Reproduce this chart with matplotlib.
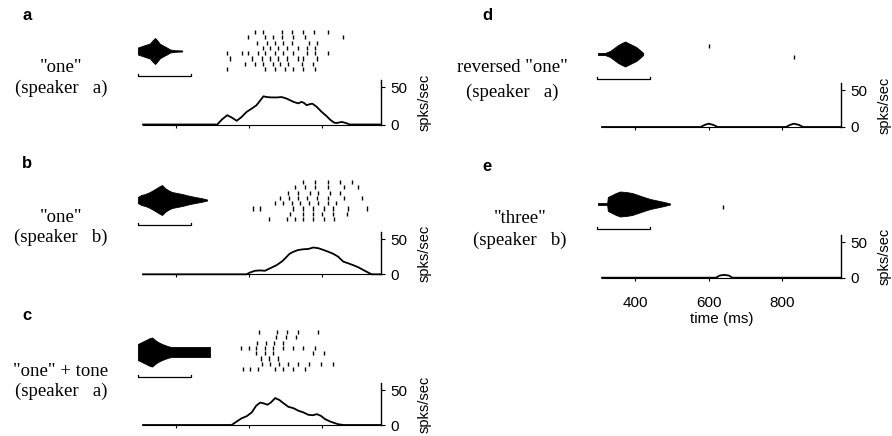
import matplotlib.pyplot as plt

W, H = 892, 436
T_RANGE = (310, 960)

# ---- data ----
# spike rasters: spike times in ms, one list per trial
raster_a = [
    [616, 638, 690, 718, 748, 778, 814],
    [597, 644, 666, 690, 721, 753, 855],
    [622, 649, 671, 693, 718, 762, 786],
    [638, 658, 679, 704, 734, 759, 781],
    [540, 581, 597, 625, 644, 671, 693, 721, 759, 781, 814],
    [548, 608, 636, 658, 679, 704, 732, 748, 786],
    [589, 616, 638, 666, 685, 707, 745, 773],
    [540, 644, 671, 699, 721, 748, 781],
]
raster_b = [
    [748, 781, 814, 847, 882],
    [726, 753, 781, 814, 858, 896],
    [707, 734, 767, 789, 822, 849],
    [685, 710, 734, 759, 786, 816, 858, 907],
    [671, 693, 718, 740, 762, 789, 814, 836],
    [611, 630, 721, 748, 775, 803, 830, 871, 923],
    [712, 748, 775, 800, 830, 868],
    [655, 704, 726, 748, 775, 803, 833],
]
raster_c = [
    [627, 677, 704, 732, 789],
    [674, 701, 729],
    [622, 647, 668, 693],
    [578, 600, 619, 644, 666, 693, 721, 748, 781],
    [619, 644, 666, 773, 805],
    [633, 655, 679],
    [636, 658, 682, 707, 734, 762, 795, 830],
    [584, 603, 625, 671, 693, 721, 753],
]
raster_d = [[], [], [600], [], [832], [], [], []]
raster_e = [[], [], [], [], [640], [], [], []]

# PSTH: time (ms) and rate (spikes/sec)
psth_a_t = [310, 513, 525, 540, 552, 566, 579, 593, 607, 620, 631, 639, 648, 661, 675, 689,
            702, 721, 734, 743, 750, 757, 766, 773, 784, 798, 812, 821, 832, 839, 853, 864, 875, 960]
psth_a_r = [0, 0, 6.5, 12.5, 9.5, 5, 10, 17, 21.5, 26, 33, 38, 37, 36.5, 36.5, 37,
            35, 30.5, 28.5, 30.5, 29, 26, 27.5, 28, 24, 17, 11, 6.5, 2.5, 2, 3.5, 2, 0, 0]
psth_b_t = [310, 593, 602, 616, 630, 643, 657, 675, 689, 698, 710, 721, 734, 748, 762,
            775, 789, 803, 816, 830, 843, 857, 871, 884, 898, 912, 925, 934, 960]
psth_b_r = [0, 0, 2.5, 5, 5.5, 5, 8.5, 13, 18, 22.5, 29, 32, 34.5, 35.5, 36,
            38, 37, 34.5, 32, 29, 25, 18, 15.5, 13, 10, 6, 2.5, 0, 0]
psth_c_t = [310, 552, 566, 579, 593, 607, 619, 630, 639, 650, 659, 671, 683, 694, 707,
            721, 734, 748, 762, 774, 785, 796, 807, 821, 832, 844, 858, 960]
psth_c_r = [0, 0, 5, 9.5, 12.5, 18, 27.5, 32, 31, 29, 32, 38.5, 35.5, 31, 26,
            24, 20.5, 18, 14.5, 14, 15.5, 13, 8.5, 5, 3, 1, 0, 0]
psth_d_t = [310, 578, 590, 600, 612, 625, 810, 822, 832, 845, 857, 960]
psth_d_r = [0, 0, 3, 4.5, 3, 0, 0, 3, 4.5, 3, 0, 0]
psth_e_t = [310, 620, 630, 642, 655, 665, 960]
psth_e_r = [0, 0, 3, 4, 3, 0, 0]

# stimulus waveform envelopes: time (ms) and half amplitude
wave_a_t = [296, 316, 329, 337, 343, 348, 356, 367, 376, 384, 397, 417]
wave_a_amp = [3.5, 6, 7.5, 11, 13, 11, 7.3, 5, 3.3, 1.5, 0.8, 0.5]
wave_b_t = [296, 305, 316, 329, 343, 354, 362, 370, 378, 389, 403, 417, 433, 452, 468, 485]
wave_b_amp = [3, 5, 6, 8, 11, 13.5, 15, 12, 10, 8, 7, 6, 4.5, 3, 2, 0.5]
wave_c_t = [296, 307, 318, 329, 335, 343, 351, 362, 373, 381, 389, 493]
wave_c_amp = [8, 10, 12, 14, 14.5, 12, 10, 8, 6.5, 5.5, 5, 5]
wave_d_t = [299, 318, 332, 343, 354, 364, 373, 381, 392, 403, 413, 422]
wave_d_amp = [1, 1, 3, 6, 9, 11, 12.5, 11, 9, 7, 4, 1]
wave_e_t = [299, 324, 326, 337, 348, 359, 375, 392, 408, 424, 441, 460, 479, 495]
wave_e_amp = [1, 1, 7, 9, 11, 12.5, 12, 11, 9, 7, 5, 3.5, 2, 0.5]

scale_bar = (297, 440)
time_ticks = [400, 600, 800]
rate_ticks = [0, 50]

SANS = "Liberation Sans"
SERIF = "Liberation Serif"

# layout in pixels
panels = [
    dict(letter="a", lx=27, ly=15, lines=('"one"', "(speaker   a)"), tx=61, ty=(68, 88),
         x0=143, x1=381, wc=51, row0=32, rs=5.3, ptop=80, pbot=124.5,
         wave=(wave_a_t, wave_a_amp), raster=raster_a, psth=(psth_a_t, psth_a_r)),
    dict(letter="b", lx=27, ly=164, lines=('"one"', "(speaker   b)"), tx=61, ty=(217, 237),
         x0=143, x1=381, wc=200, row0=182, rs=5.3, ptop=232, pbot=274.3,
         wave=(wave_b_t, wave_b_amp), raster=raster_b, psth=(psth_b_t, psth_b_r)),
    dict(letter="c", lx=27, ly=315, lines=('"one" + tone', "(speaker   a)"), tx=61, ty=(371, 391),
         x0=143, x1=381, wc=352, row0=332, rs=5.3, ptop=383, pbot=425,
         wave=(wave_c_t, wave_c_amp), raster=raster_c, psth=(psth_c_t, psth_c_r)),
    dict(letter="d", lx=487, ly=15, lines=('reversed "one"', "(speaker   a)"), tx=512, ty=(68, 92),
         x0=602, x1=841, wc=54, row0=35, rs=5.5, ptop=83, pbot=127,
         wave=(wave_d_t, wave_d_amp), raster=raster_d, psth=(psth_d_t, psth_d_r)),
    dict(letter="e", lx=487, ly=166, lines=('"three"', "(speaker   b)"), tx=520, ty=(218, 240),
         x0=602, x1=841, wc=204, row0=185, rs=5.5, ptop=235, pbot=277.7,
         wave=(wave_e_t, wave_e_amp), raster=raster_e, psth=(psth_e_t, psth_e_r)),
]

fig = plt.figure(figsize=(W / 100, H / 100), dpi=100)


def px_axes(x0, y0, x1, y1):
    return fig.add_axes([x0 / W, 1 - y1 / H, (x1 - x0) / W, (y1 - y0) / H])


for p in panels:
    fig.text(p["lx"] / W, 1 - p["ly"] / H, p["letter"], fontsize=12, fontweight="bold",
             family=SANS, ha="center", va="center")
    for line, y in zip(p["lines"], p["ty"]):
        fig.text(p["tx"] / W, 1 - y / H, line, fontsize=13.5, family=SERIF,
                 ha="center", va="center")

    # stimulus waveform + scale bar
    axw = px_axes(p["x0"], p["wc"] - 17, p["x1"], p["wc"] + 28)
    t, amp = p["wave"]
    axw.fill_between(t, [-a for a in amp], amp, color="black", lw=0.6, clip_on=False)
    b0, b1 = scale_bar
    axw.plot([b0, b0, b1, b1], [-23, -25, -25, -23], color="black", lw=0.9, clip_on=False)
    axw.set_xlim(*T_RANGE)
    axw.set_ylim(-28, 17)
    axw.axis("off")

    # raster
    axr = px_axes(p["x0"], p["row0"] - p["rs"], p["x1"], p["row0"] + 8 * p["rs"])
    for i, trial in enumerate(p["raster"]):
        if trial:
            axr.vlines(trial, i - 0.38, i + 0.38, color="black", lw=1.0)
    axr.set_xlim(*T_RANGE)
    axr.set_ylim(8, -1)
    axr.axis("off")

    # PSTH
    axp = px_axes(p["x0"], p["ptop"], p["x1"], p["pbot"])
    t, r = p["psth"]
    axp.plot(t, r, color="black", lw=1.3, clip_on=False)
    axp.set_xlim(*T_RANGE)
    axp.set_ylim(0, 60)
    for s in ("top", "left"):
        axp.spines[s].set_visible(False)
    axp.spines["bottom"].set_linewidth(0.8)
    axp.spines["right"].set_linewidth(1.0)
    axp.set_xticks(time_ticks)
    axp.set_yticks(rate_ticks)
    axp.yaxis.tick_right()
    axp.yaxis.set_label_position("right")
    axp.tick_params(axis="y", length=3, width=0.8, pad=4, labelsize=11)
    axp.tick_params(axis="x", length=2.5, width=0.8, pad=11, labelsize=11,
                    labelbottom=(p["letter"] == "e"))
    for lab in axp.get_xticklabels() + axp.get_yticklabels():
        lab.set_family(SANS)
    axp.set_ylabel("spks/sec", fontsize=10.5, family=SANS, labelpad=7)
    if p["letter"] == "e":
        axp.set_xlabel("time (ms)", fontsize=11, family=SANS, labelpad=1)

fig.savefig("out.png", dpi=100)
